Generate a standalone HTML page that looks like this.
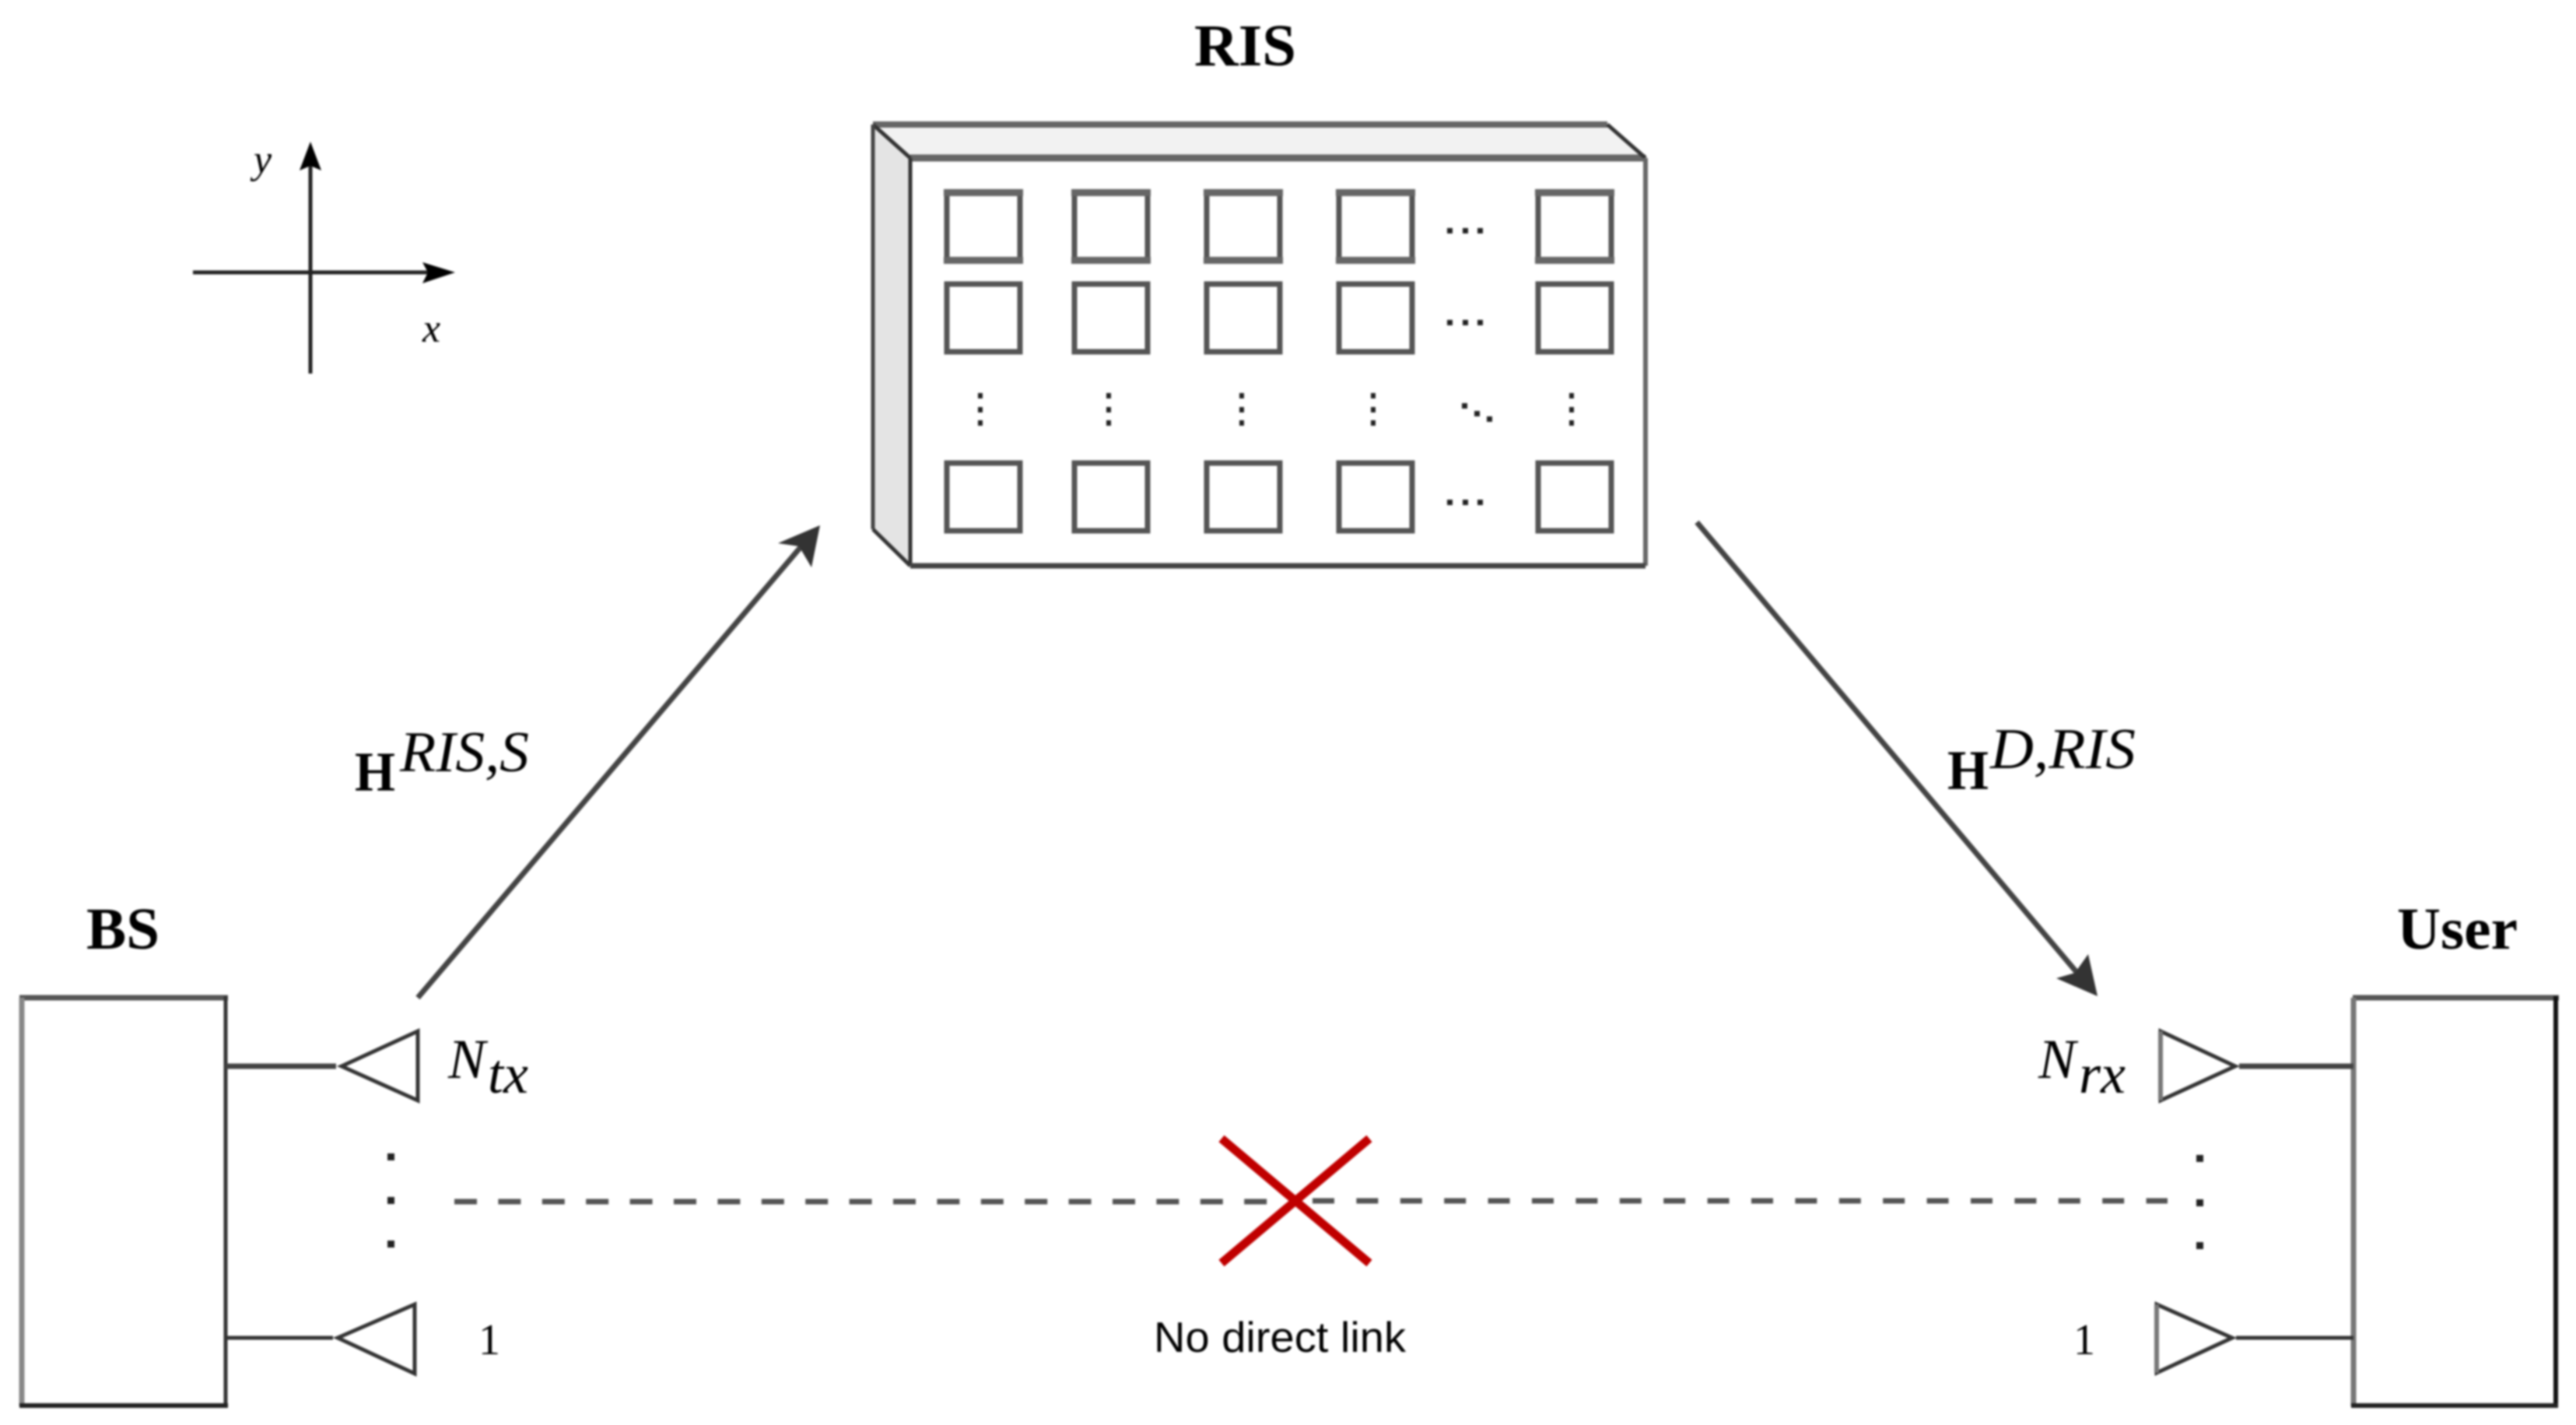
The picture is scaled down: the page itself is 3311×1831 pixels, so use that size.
<!DOCTYPE html>
<html>
<head>
<meta charset="utf-8">
<style>
html,body{margin:0;padding:0;background:#fff;}
svg{display:block;filter:blur(1.2px);}
text{font-family:"Liberation Serif",serif;fill:#000;}
.b{font-weight:bold;font-size:76px;}
.i{font-style:italic;}
</style>
</head>
<body>
<svg width="3311" height="1831" viewBox="0 0 3311 1831" xmlns="http://www.w3.org/2000/svg">
<rect width="3311" height="1831" fill="#fff"/>

<!-- Axes -->
<g stroke="#222" stroke-width="5" fill="none">
<line x1="248" y1="350" x2="560" y2="350"/>
<line x1="399" y1="210" x2="399" y2="480"/>
</g>
<polygon points="585,350 543,337 550,350 543,364" fill="#000"/>
<polygon points="399,182 385,219 399,213 413,219" fill="#000"/>
<text x="326" y="222" class="i" font-size="52">y</text>
<text x="543" y="439" class="i" font-size="52">x</text>

<!-- RIS -->
<text x="1535" y="84" class="b" textLength="131" lengthAdjust="spacingAndGlyphs">RIS</text>
<polygon points="1122,160 1170,203 1170,727 1122,680" fill="#e4e4e4"/>
<polygon points="1122,160 2066,160 2115,203 1170,203" fill="#f2f2f2"/>
<rect x="1170" y="203" width="945" height="524" fill="#fff"/>
<g stroke-linejoin="miter" fill="none">
<polyline points="1122,160 2066,160" stroke="#666" stroke-width="8"/>
<line x1="1170" y1="203" x2="2115" y2="203" stroke="#666" stroke-width="9"/>
<line x1="1122" y1="160" x2="1170" y2="203" stroke="#333" stroke-width="5"/>
<line x1="2066" y1="160" x2="2115" y2="203" stroke="#333" stroke-width="5"/>
<line x1="1122" y1="160" x2="1122" y2="680" stroke="#444" stroke-width="5"/>
<line x1="1122" y1="680" x2="1170" y2="727" stroke="#333" stroke-width="5"/>
<line x1="1170" y1="203" x2="1170" y2="727" stroke="#333" stroke-width="5"/>
<line x1="2115" y1="203" x2="2115" y2="727" stroke="#666" stroke-width="6"/>
<line x1="1170" y1="727" x2="2115" y2="727" stroke="#444" stroke-width="7"/>
</g>
<g fill="#fff" stroke="#555" stroke-width="7">
<rect x="1217" y="247" width="94" height="87"/>
<rect x="1381" y="247" width="94" height="87"/>
<rect x="1551" y="247" width="94" height="87"/>
<rect x="1721" y="247" width="94" height="87"/>
<rect x="1977" y="247" width="94" height="87"/>
<rect x="1217" y="365" width="94" height="87"/>
<rect x="1381" y="365" width="94" height="87"/>
<rect x="1551" y="365" width="94" height="87"/>
<rect x="1721" y="365" width="94" height="87"/>
<rect x="1977" y="365" width="94" height="87"/>
<rect x="1217" y="595" width="94" height="87"/>
<rect x="1381" y="595" width="94" height="87"/>
<rect x="1551" y="595" width="94" height="87"/>
<rect x="1721" y="595" width="94" height="87"/>
<rect x="1977" y="595" width="94" height="87"/>
</g>
<g fill="#666">
<rect x="1213" y="243" width="102" height="9"/><rect x="1377" y="243" width="102" height="9"/><rect x="1547" y="243" width="102" height="9"/><rect x="1717" y="243" width="102" height="9"/><rect x="1973" y="243" width="102" height="9"/>
<rect x="1213" y="330" width="102" height="9"/><rect x="1377" y="330" width="102" height="9"/><rect x="1547" y="330" width="102" height="9"/><rect x="1717" y="330" width="102" height="9"/><rect x="1973" y="330" width="102" height="9"/>
</g>
<g fill="#222">
<rect x="1860" y="293" width="7" height="7"/><rect x="1880" y="293" width="7" height="7"/><rect x="1899" y="293" width="7" height="7"/>
<rect x="1860" y="411" width="7" height="7"/><rect x="1880" y="411" width="7" height="7"/><rect x="1899" y="411" width="7" height="7"/>
<rect x="1860" y="642" width="7" height="7"/><rect x="1880" y="642" width="7" height="7"/><rect x="1899" y="642" width="7" height="7"/>
<rect x="1257" y="505" width="6" height="7"/><rect x="1257" y="523" width="6" height="7"/><rect x="1257" y="540" width="6" height="7"/>
<rect x="1422" y="505" width="6" height="7"/><rect x="1422" y="523" width="6" height="7"/><rect x="1422" y="540" width="6" height="7"/>
<rect x="1593" y="505" width="6" height="7"/><rect x="1593" y="523" width="6" height="7"/><rect x="1593" y="540" width="6" height="7"/>
<rect x="1762" y="505" width="6" height="7"/><rect x="1762" y="523" width="6" height="7"/><rect x="1762" y="540" width="6" height="7"/>
<rect x="2017" y="505" width="6" height="7"/><rect x="2017" y="523" width="6" height="7"/><rect x="2017" y="540" width="6" height="7"/>
<rect x="1879" y="518" width="7" height="7"/><rect x="1895" y="528" width="7" height="7"/><rect x="1911" y="535" width="7" height="7"/>
</g>

<!-- Main arrows -->
<line x1="537" y1="1282" x2="1035" y2="696" stroke="#444" stroke-width="7"/>
<polygon points="1054,675 1000,698 1027,702 1043,729" fill="#333"/>
<line x1="2181" y1="671" x2="2680" y2="1262" stroke="#444" stroke-width="7"/>
<polygon points="2696,1280 2643,1257 2667,1250 2684,1226" fill="#333"/>

<!-- Channel labels -->
<text x="456" y="1016" font-weight="bold" font-size="72" textLength="52" lengthAdjust="spacingAndGlyphs">H</text>
<text x="514" y="991" class="i" font-size="74" textLength="166" lengthAdjust="spacingAndGlyphs">RIS,S</text>
<text x="2503" y="1014" font-weight="bold" font-size="72" textLength="53" lengthAdjust="spacingAndGlyphs">H</text>
<text x="2558" y="987" class="i" font-size="74" textLength="187" lengthAdjust="spacingAndGlyphs">D,RIS</text>

<!-- BS -->
<text x="111" y="1219" class="b" textLength="94" lengthAdjust="spacingAndGlyphs">BS</text>
<line x1="25" y1="1282" x2="293" y2="1282" stroke="#555" stroke-width="7"/>
<line x1="28" y1="1282" x2="28" y2="1807" stroke="#888" stroke-width="7"/>
<line x1="290" y1="1280" x2="290" y2="1808" stroke="#333" stroke-width="5"/>
<line x1="25" y1="1806" x2="293" y2="1806" stroke="#222" stroke-width="6"/>
<line x1="290" y1="1370" x2="432" y2="1370" stroke="#444" stroke-width="7"/>
<line x1="290" y1="1719" x2="428" y2="1719" stroke="#333" stroke-width="5"/>
<polygon points="439,1370 537,1325 537,1414" fill="#fff" stroke="#333" stroke-width="5"/>
<polygon points="434,1719 533,1676 533,1765" fill="#fff" stroke="#333" stroke-width="5"/>
<text x="576" y="1385" class="i" font-size="72">N</text>
<text x="627" y="1404" class="i" font-size="72">tx</text>
<text x="615" y="1740" font-size="56">1</text>
<g fill="#222">
<rect x="498" y="1482" width="9" height="9"/>
<rect x="498" y="1538" width="9" height="9"/>
<rect x="498" y="1594" width="9" height="9"/>
</g>

<!-- User -->
<text x="3081" y="1219" class="b" textLength="155" lengthAdjust="spacingAndGlyphs">User</text>
<line x1="3024" y1="1282" x2="3289" y2="1282" stroke="#555" stroke-width="7"/>
<line x1="3025" y1="1282" x2="3025" y2="1807" stroke="#777" stroke-width="7"/>
<line x1="3285" y1="1280" x2="3285" y2="1808" stroke="#111" stroke-width="6"/>
<line x1="3022" y1="1806" x2="3288" y2="1806" stroke="#222" stroke-width="6"/>
<line x1="2878" y1="1370" x2="3025" y2="1370" stroke="#444" stroke-width="7"/>
<line x1="2874" y1="1719" x2="3025" y2="1719" stroke="#333" stroke-width="5"/>
<polygon points="2873,1370 2777,1325 2777,1414" fill="#fff" stroke="#333" stroke-width="5"/>
<line x1="2777" y1="1325" x2="2777" y2="1414" stroke="#777" stroke-width="6"/>
<polygon points="2869,1719 2772,1676 2772,1764" fill="#fff" stroke="#333" stroke-width="5"/>
<line x1="2772" y1="1676" x2="2772" y2="1764" stroke="#777" stroke-width="6"/>
<text x="2620" y="1385" class="i" font-size="72">N</text>
<text x="2672" y="1404" class="i" font-size="72">rx</text>
<text x="2665" y="1740" font-size="56">1</text>
<g fill="#222">
<rect x="2823" y="1484" width="9" height="9"/>
<rect x="2823" y="1541" width="9" height="9"/>
<rect x="2823" y="1596" width="9" height="9"/>
</g>

<!-- No direct link -->
<line x1="584" y1="1544" x2="1640" y2="1544" stroke="#555" stroke-width="7" stroke-dasharray="29 27.4"/>
<line x1="1687" y1="1543" x2="2786" y2="1543" stroke="#555" stroke-width="7" stroke-dasharray="28 28.4"/>
<g stroke="#c00000" stroke-width="11">
<line x1="1570" y1="1463" x2="1760" y2="1623"/>
<line x1="1760" y1="1463" x2="1570" y2="1623"/>
</g>
<text x="1483" y="1737" font-size="55" style="font-family:'Liberation Sans',sans-serif" fill="#222" textLength="324" lengthAdjust="spacingAndGlyphs">No direct link</text>
</svg>
</body>
</html>
